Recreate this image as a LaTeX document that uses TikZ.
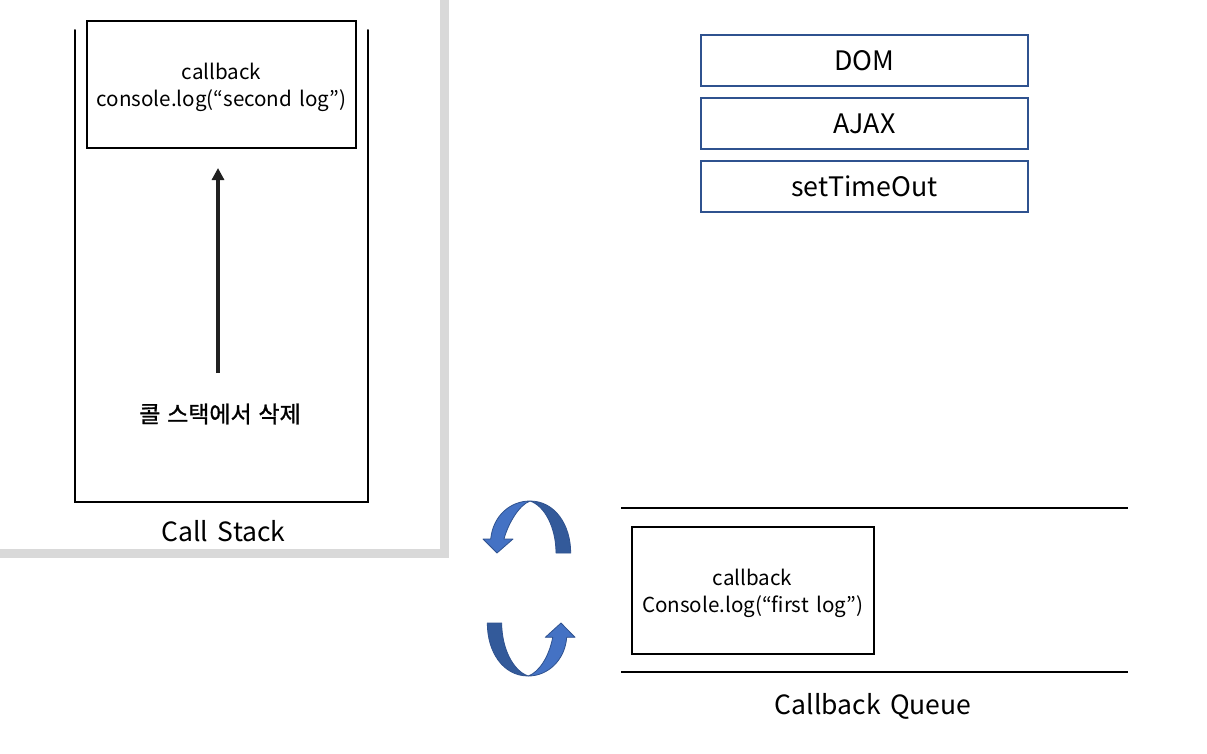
\documentclass[tikz,border=0pt]{standalone}
\usepackage{fontspec}
\setmainfont{Noto Sans CJK KR}[WordSpace=1.6]
\newfontfamily\krfont{Noto Sans CJK KR}[FakeBold=1.2,WordSpace=1.3]
\usetikzlibrary{arrows.meta}
\definecolor{frameGray}{HTML}{D9D9D9}
\definecolor{boxBlue}{HTML}{2F528F}
\definecolor{arcLight}{HTML}{4472C4}
\definecolor{arcDark}{HTML}{335A9A}
\tikzset{
  blackbox/.style={draw=black,line width=2pt,fill=white,minimum width=#1,inner sep=0pt,align=center},
  apibox/.style={draw=boxBlue,line width=2pt,minimum width=327pt,minimum height=51pt,inner sep=0pt,font=\fontsize{26.8}{30}\selectfont},
  wall/.style={line width=2pt,black,line cap=round},
  caption/.style={inner sep=0pt,font=\fontsize{26.5}{30}\selectfont},
  arclight/.style={fill=arcLight,draw=boxBlue,line width=.8pt,line join=round},
  arcdark/.style={fill=arcDark,draw=boxBlue,line width=.8pt,line join=round}
}
\begin{document}
\begin{tikzpicture}[x=1pt,y=-1pt]
\useasboundingbox (0,0) rectangle (1207,753);
\fill[white] (0,0) rectangle (1207,753);
% gray frame
\fill[frameGray] (440,0) rectangle (449,558);
\fill[frameGray] (0,549) rectangle (449,558);
% call stack
\draw[wall] (75,30) -- (75,502) -- (368,502) -- (368,30);
\node[blackbox=269pt,minimum height=127pt] (second) at (221.5,84.5) {};
\node[inner sep=0pt,align=center,font=\fontsize{20.6}{27}\selectfont] (secondText) at (221.5,87) {callback\\console.log(“second log”)};
\node[inner sep=0pt,font=\fontsize{23}{26}\selectfont\krfont] (remove) at (220,414) {콜 스택에서 삭제};
\coordinate (arrowStart) at (218,373);
\coordinate (arrowEnd) at (218,168);
\draw[line width=4pt,draw=black!87,-{Triangle[length=12pt,width=12pt]}] (arrowStart) -- (arrowEnd);
\node[caption] (stackLabel) at (223.5,531) {Call Stack};
% APIs
\node[apibox] (dom) at (864.5,60.5) {DOM};
\node[apibox] (ajax) at (864.5,123.5) {AJAX};
\node[apibox] (timeout) at (864.5,186.5) {setTimeOut};
% queue
\coordinate (qa) at (621,508); \coordinate (qb) at (1128,508);
\coordinate (qc) at (621,672); \coordinate (qd) at (1128,672);
\draw[line width=2pt] (qa) -- (qb);
\draw[line width=2pt] (qc) -- (qd);
\node[blackbox=242pt,minimum height=127pt] (first) at (753,590.5) {};
\node[inner sep=0pt,align=center,font=\fontsize{20.6}{27}\selectfont] (firstText) at (752.5,593) {callback\\Console.log(“first log”)};
\node[caption] (queueLabel) at (873,706) {Callback Queue};
% top circular arrow
\path[arcdark] (570.7,553) .. controls (570.7,525) and (555,501) .. (530,501)
  .. controls (545,506) and (556,528) .. (556,553) -- cycle;
\path[arclight] (530,501) .. controls (510,501) and (493,516) .. (490.7,539)
  -- (483,539) -- (497,553) -- (513,539) -- (504,539)
  .. controls (508,524) and (519,505) .. (530,501) -- cycle;
% bottom circular arrow
\path[arcdark] (487.3,623) .. controls (487.3,652) and (503,676) .. (528.3,676)
  .. controls (513,671) and (501.7,648) .. (501.7,623) -- cycle;
\path[arclight] (528.3,676) .. controls (548,676) and (565,660) .. (566.7,637.3)
  -- (575,637.3) -- (561,623) -- (545.3,637.3) -- (552.7,637.3)
  .. controls (549,657) and (539,672) .. (528.3,676) -- cycle;
\end{tikzpicture}
\end{document}
